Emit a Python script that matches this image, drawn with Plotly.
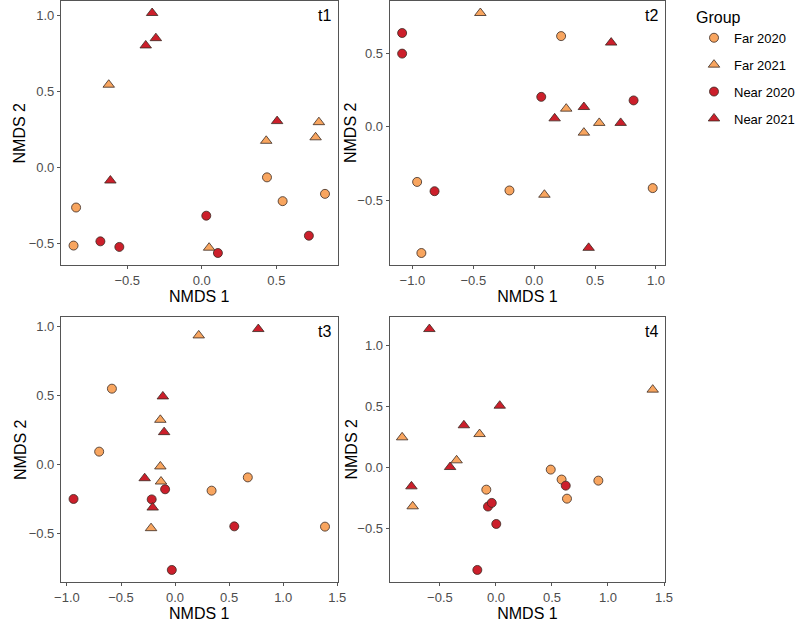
import plotly.graph_objects as go

# ---------------- data ----------------
groups = ["Far 2020", "Far 2021", "Near 2020", "Near 2021"]
panels = ["t1", "t2", "t3", "t4"]

# t1
t1_far2020_x = [-0.843, -0.860, 0.437, 0.542, 0.826]
t1_far2020_y = [-0.265, -0.516, -0.066, -0.223, -0.175]
t1_far2021_x = [-0.624, 0.432, 0.049, 0.785, 0.763]
t1_far2021_y = [0.545, 0.175, -0.530, 0.298, 0.198]
t1_near2020_x = [-0.680, -0.553, 0.030, 0.108, 0.718]
t1_near2020_y = [-0.488, -0.525, -0.319, -0.565, -0.451]
t1_near2021_x = [-0.333, -0.308, -0.376, -0.613, 0.505]
t1_near2021_y = [1.018, 0.852, 0.804, -0.087, 0.305]

# t2
t2_far2020_x = [0.221, -0.961, -0.926, -0.203, 0.973]
t2_far2020_y = [0.616, -0.375, -0.858, -0.433, -0.417]
t2_far2021_x = [-0.442, 0.263, 0.408, 0.534, 0.084]
t2_far2021_y = [0.773, 0.123, -0.040, 0.026, -0.462]
t2_near2020_x = [-1.084, -1.084, -0.818, 0.058, 0.816]
t2_near2020_y = [0.637, 0.497, -0.438, 0.203, 0.179]
t2_near2021_x = [0.168, 0.408, 0.632, 0.710, 0.447]
t2_near2021_y = [0.057, 0.134, 0.572, 0.026, -0.823]

# t3
t3_far2020_x = [-0.584, -0.702, 0.338, 0.673, 1.387]
t3_far2020_y = [0.549, 0.094, -0.188, -0.092, -0.448]
t3_far2021_x = [0.219, -0.136, -0.136, -0.130, -0.222]
t3_far2021_y = [0.934, 0.324, -0.013, -0.122, -0.459]
t3_near2020_x = [-0.939, -0.216, -0.092, 0.548, -0.030]
t3_near2020_y = [-0.248, -0.251, -0.178, -0.446, -0.761]
t3_near2021_x = [0.770, -0.113, -0.101, -0.281, -0.207]
t3_near2021_y = [0.980, 0.493, 0.235, -0.098, -0.310]

# t4
t4_far2020_x = [-0.086, 0.489, 0.586, 0.634, 0.914]
t4_far2020_y = [-0.184, -0.019, -0.101, -0.258, -0.110]
t4_far2021_x = [-0.837, -0.743, -0.351, -0.146, 1.399]
t4_far2021_y = [0.246, -0.321, 0.057, 0.273, 0.638]
t4_near2020_x = [-0.166, -0.071, -0.037, 0.003, 0.623]
t4_near2020_y = [-0.844, -0.323, -0.293, -0.466, -0.151]
t4_near2021_x = [-0.594, 0.034, -0.286, -0.409, -0.754]
t4_near2021_y = [1.136, 0.506, 0.345, 0.002, -0.157]

data = {
    "t1": [(t1_far2020_x, t1_far2020_y), (t1_far2021_x, t1_far2021_y),
           (t1_near2020_x, t1_near2020_y), (t1_near2021_x, t1_near2021_y)],
    "t2": [(t2_far2020_x, t2_far2020_y), (t2_far2021_x, t2_far2021_y),
           (t2_near2020_x, t2_near2020_y), (t2_near2021_x, t2_near2021_y)],
    "t3": [(t3_far2020_x, t3_far2020_y), (t3_far2021_x, t3_far2021_y),
           (t3_near2020_x, t3_near2020_y), (t3_near2021_x, t3_near2021_y)],
    "t4": [(t4_far2020_x, t4_far2020_y), (t4_far2021_x, t4_far2021_y),
           (t4_near2020_x, t4_near2020_y), (t4_near2021_x, t4_near2021_y)],
}

x_ticks = {
    "t1": [-0.5, 0.0, 0.5],
    "t2": [-1.0, -0.5, 0.0, 0.5, 1.0],
    "t3": [-1.0, -0.5, 0.0, 0.5, 1.0, 1.5],
    "t4": [-0.5, 0.0, 0.5, 1.0, 1.5],
}
y_ticks = {
    "t1": [-0.5, 0.0, 0.5, 1.0],
    "t2": [-0.5, 0.0, 0.5],
    "t3": [-0.5, 0.0, 0.5, 1.0],
    "t4": [-0.5, 0.0, 0.5, 1.0],
}

# ---------------- styles ----------------
W, H = 800, 626
colors = {"Far 2020": "#F8A55F", "Far 2021": "#F8A55F",
          "Near 2020": "#CC1F2B", "Near 2021": "#CC1F2B"}
symbols = {"Far 2020": "circle", "Far 2021": "triangle-up",
           "Near 2020": "circle", "Near 2021": "triangle-up"}
sizes = {"circle": 9, "triangle-up": 10}

# panel boxes in pixels: (left, right, top, bottom)
boxes = {
    "t1": (56, 343, 1, 265),
    "t2": (397, 683, 1, 265),
    "t3": (56, 343, 317, 582),
    "t4": (397, 683, 317, 582),
}
# horizontal centre of the y-axis titles (pixels)
ytitle_x = {"t1": 14, "t2": 357, "t3": 14, "t4": 357}

FONT = "Liberation Sans, Arial, sans-serif"

fig = go.Figure()
layout = dict(
    width=W, height=H,
    margin=dict(l=0, r=0, t=0, b=0),
    paper_bgcolor="white", plot_bgcolor="white",
    font=dict(family=FONT, size=13, color="#4D4D4D"),
    showlegend=True,
    annotations=[],
)


def expand(vals):
    lo, hi = min(vals), max(vals)
    pad = (hi - lo) * 0.05
    return [lo - pad, hi + pad]


for i, p in enumerate(panels):
    ax = "" if i == 0 else str(i + 1)
    xs_all, ys_all = [], []
    for g, (xs, ys) in zip(groups, data[p]):
        xs_all += xs
        ys_all += ys
        fig.add_trace(go.Scatter(
            x=xs, y=ys, mode="markers", name=g,
            legendgroup=g, showlegend=(i == 0),
            xaxis="x" + ax, yaxis="y" + ax,
            marker=dict(symbol=symbols[g], size=sizes[symbols[g]],
                        color=colors[g],
                        line=dict(color="#3a2a22", width=0.8)),
        ))
    l, r, t, b = boxes[p]
    common = dict(
        showline=True, mirror=True, linecolor="#555555", linewidth=1,
        showgrid=False, zeroline=False,
        ticks="outside", ticklen=3, tickcolor="#555555", tickwidth=1,
        tickformat=".1f",
        tickfont=dict(family=FONT, size=13, color="#4D4D4D"),
        title_font=dict(family=FONT, size=16, color="#000000"),
    )
    layout["xaxis" + ax] = dict(
        common, domain=[l / W, r / W], anchor="y" + ax,
        range=expand(xs_all), tickvals=x_ticks[p],
        title=dict(text="NMDS 1", standoff=3),
    )
    layout["yaxis" + ax] = dict(
        common, domain=[1 - b / H, 1 - t / H], anchor="x" + ax,
        range=expand(ys_all), tickvals=y_ticks[p],
    )
    layout["annotations"].append(dict(
        text="NMDS 2", xref="paper", yref="y" + ax + " domain",
        x=ytitle_x[p] / W, y=0.5, xanchor="center", yanchor="middle",
        textangle=-90, showarrow=False,
        font=dict(family=FONT, size=16, color="#000000"),
    ))
    layout["annotations"].append(dict(
        text=p, xref="x" + ax + " domain", yref="y" + ax + " domain",
        x=1, y=1, xanchor="right", yanchor="top", xshift=-5, yshift=-4,
        showarrow=False, font=dict(family=FONT, size=16, color="#000000"),
    ))

layout["legend"] = dict(
    x=713 / W, y=1 - 2 / H, xanchor="left", yanchor="top",
    title=dict(text="Group", font=dict(family=FONT, size=16, color="#000000")),
    font=dict(family=FONT, size=13, color="#000000"),
    tracegroupgap=7, itemsizing="trace",
    bgcolor="rgba(0,0,0,0)",
)

fig.update_layout(**layout)
fig.write_html(
    "out.html",
    config={"displayModeBar": False},
    post_script="document.body.style.margin='0';document.body.style.padding='0';",
)
